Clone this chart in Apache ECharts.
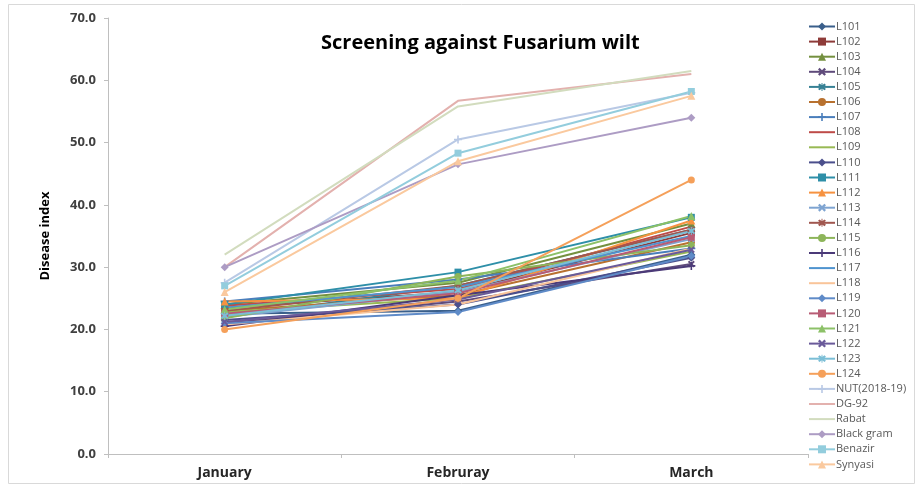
<!DOCTYPE html>
<html><head><meta charset="utf-8">
<script src="https://cdn.jsdelivr.net/npm/echarts@6/dist/echarts.min.js"></script>
<style>html,body{margin:0;padding:0;background:#fff}#c{width:920px;height:501px}</style>
</head><body><div id="c"></div>
<script>
var months = ['January', 'Februray', 'March'];
var names = ['L101','L102','L103','L104','L105','L106','L107','L108','L109','L110','L111','L112','L113','L114','L115','L116','L117','L118','L119','L120','L121','L122','L123','L124','NUT(2018-19)','DG-92','Rabat','Black gram','Benazir','Synyasi'];
var L101 = [22.5, 23.0, 32.0];
var L102 = [23.5, 26.0, 35.5];
var L103 = [24.0, 27.5, 37.0];
var L104 = [21.0, 24.5, 30.5];
var L105 = [22.0, 27.0, 36.0];
var L106 = [23.0, 25.5, 34.0];
var L107 = [24.5, 28.0, 33.0];
var L108 = [23.8, 26.5, 36.5];
var L109 = [22.8, 25.0, 32.5];
var L110 = [21.5, 24.0, 31.5];
var L111 = [24.0, 29.2, 38.0];
var L112 = [24.5, 25.0, 37.5];
var L113 = [22.0, 26.0, 34.5];
var L114 = [23.0, 27.0, 36.0];
var L115 = [21.8, 28.5, 33.5];
var L116 = [20.5, 25.5, 30.2];
var L117 = [23.5, 26.8, 35.0];
var L118 = [20.8, 24.0, 33.0];
var L119 = [21.0, 22.8, 31.8];
var L120 = [22.5, 25.8, 34.8];
var L121 = [23.2, 27.8, 38.2];
var L122 = [21.2, 24.8, 32.8];
var L123 = [22.2, 26.3, 35.8];
var L124 = [20.0, 25.0, 44.0];
var NUT = [27.5, 50.5, 58.0];
var DG92 = [30.0, 56.7, 61.0];
var Rabat = [32.0, 55.8, 61.5];
var BlackGram = [30.0, 46.5, 54.0];
var Benazir = [27.0, 48.3, 58.2];
var Synyasi = [26.0, 47.0, 57.5];
var values = [L101,L102,L103,L104,L105,L106,L107,L108,L109,L110,L111,L112,L113,L114,L115,L116,L117,L118,L119,L120,L121,L122,L123,L124,NUT,DG92,Rabat,BlackGram,Benazir,Synyasi];
var yTicks = [0, 10, 20, 30, 40, 50, 60, 70];

var colors = ['#3A5F8B','#8E3B39','#74903F','#5F4B7B','#368195','#B8712F',
  '#4A7EBB','#BE4B48','#98B954','#4B4F8C','#2E8FA8','#F69240',
  '#7EA4D1','#A0574F','#8DB55A','#4B3A78','#4F93CF','#F9C499',
  '#5F8BC8','#B85C75','#8CC168','#6A5A9A','#7BBED6','#F5A05A',
  '#B9C9E5','#E3B1AE','#D2DCBE','#AD9CC4','#93CDDD','#FAC99E'];
var X = 'path://M0,2L2,0L5,3L8,0L10,2L7,5L10,8L8,10L5,7L2,10L0,8L3,5Z';
var STAR = 'path://M0,2L2,0L5,3L8,0L10,2L7,5L10,8L8,10L5,7L2,10L0,8L3,5ZM4.4,-1H5.6V11H4.4Z';
var PLUS = 'path://M4,0H6V4H10V6H6V10H4V6H0V4H4Z';
var LINEICON = 'path://M0,0H26V2H0Z';
var markers = ['diamond','rect','triangle',X,STAR,'circle',PLUS,'none','none'];
var msize = [8,7,8,7,8,7,8,0,0];

var series = names.map(function(n, i){
  var m = markers[i % 9];
  return {
    name: n, type: 'line', data: values[i],
    symbol: m, symbolSize: msize[i % 9], showSymbol: m !== 'none',
    lineStyle: {width: 2, color: colors[i]},
    itemStyle: {color: colors[i]},
    emphasis: {disabled: true}, animation: false
  };
});
var legendData = names.map(function(n, i){
  return markers[i % 9] === 'none' ? {name: n, icon: LINEICON} : {name: n};
});

var chart = echarts.init(document.getElementById('c'));
chart.setOption({
  color: colors,
  animation: false,
  title: {text: 'Screening against Fusarium wilt', left: 316, top: 28,
    textStyle: {fontFamily: 'Open Sans', fontWeight: 'bold', fontSize: 20, color: '#000'}},
  legend: {orient: 'vertical', left: 803, top: 16, itemGap: 4.1, itemWidth: 26, itemHeight: 10,
    textStyle: {fontFamily: 'Open Sans', fontSize: 11, color: '#595959', padding: [0,0,0,-4]},
    data: legendData},
  grid: {left: 108, right: 112, top: 18, bottom: 47, containLabel: false},
  xAxis: {type: 'category', data: months, boundaryGap: true,
    axisLine: {lineStyle: {color: '#BFBFBF', width: 1}},
    axisTick: {show: true, alignWithLabel: false, length: 4, lineStyle: {color: '#BFBFBF'}},
    axisLabel: {fontFamily: 'Open Sans', fontWeight: 'bold', fontSize: 14, color: '#262626', margin: 12}},
  yAxis: {type: 'value', min: 0, max: 70, interval: 10,
    name: 'Disease index', nameLocation: 'middle', nameGap: 56,
    nameTextStyle: {fontFamily: 'Open Sans', fontWeight: 'bold', fontSize: 13, color: '#000'},
    axisLine: {show: true, lineStyle: {color: '#BFBFBF'}},
    axisTick: {show: true, length: 4, lineStyle: {color: '#BFBFBF'}},
    splitLine: {show: false},
    axisLabel: {fontFamily: 'Open Sans', fontWeight: 'bold', fontSize: 13, color: '#404040', margin: 12,
      formatter: function(v){ return yTicks.indexOf(v) >= 0 ? v.toFixed(1) : ''; }}},
  graphic: [{type: 'rect', shape: {x: 8.5, y: 4.5, width: 906, height: 479}, style: {fill: 'none', stroke: '#D9D9D9', lineWidth: 1}, silent: true, z: -1}],
  series: series
});
</script></body></html>
